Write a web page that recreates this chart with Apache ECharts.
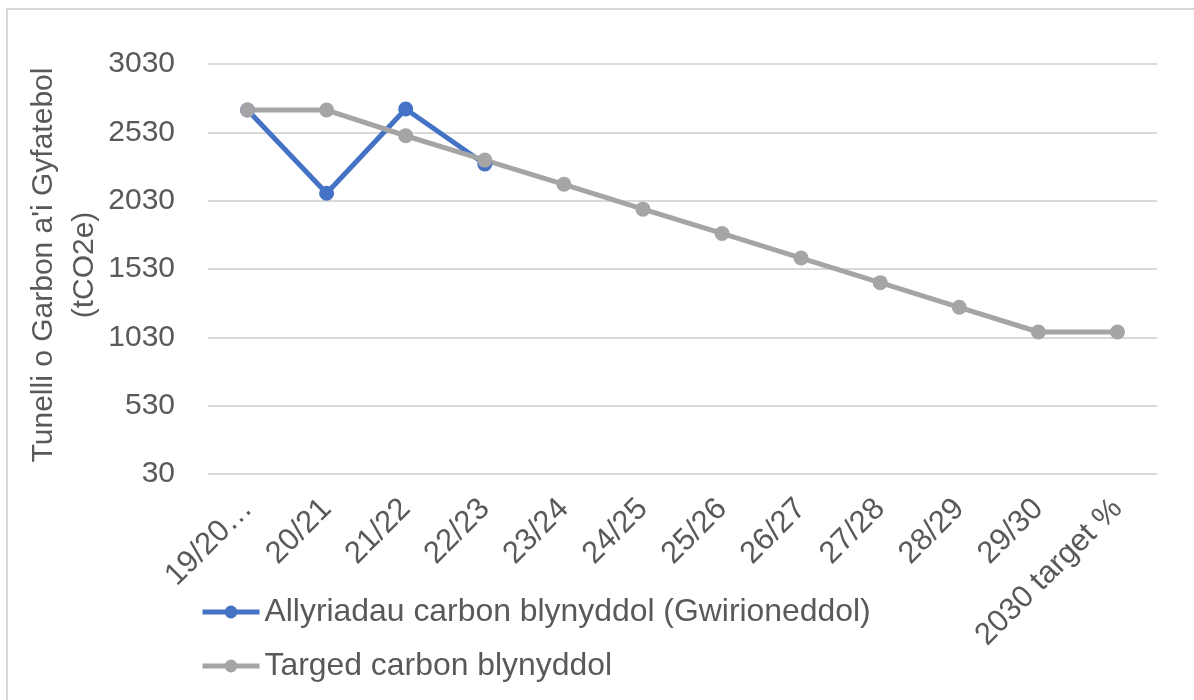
<!DOCTYPE html>
<html style="height: 100%">
<head>
<meta charset="UTF-8">
<title>Allyriadau carbon</title>
<script src="https://cdn.jsdelivr.net/npm/echarts@6/dist/echarts.min.js"></script>
</head>
<body style="height: 100%; margin: 0; background: #fff">
<div id="container" style="width: 1194px; height: 700px"></div>
<script type="text/javascript">
var years = ['19/20…', '20/21', '21/22', '22/23', '23/24', '24/25', '25/26', '26/27', '27/28', '28/29', '29/30', '2030 target %'];
var actual = [2693, 2084, 2701, 2298, null, null, null, null, null, null, null, null];
var target = [2693, 2693, 2505, 2327, 2150, 1968, 1790, 1610, 1430, 1250, 1069, 1069];
var yTicks = [30, 530, 1030, 1530, 2030, 2530, 3030];
var yTitle = "Tunelli o Garbon a'i Gyfatebol\n(tCO2e)";

var textColor = '#595959';
var fontFam = 'Liberation Sans, Arial, sans-serif';

var myChart = echarts.init(document.getElementById('container'));
var option = {
    animation: false,
    textStyle: { fontFamily: fontFam },
    graphic: [{
        type: 'rect',
        shape: { x: 7, y: 9, width: 1250, height: 760 },
        style: { fill: 'none', stroke: '#d9d9d9', lineWidth: 2 }
    }, {
        // y axis title, two lines rotated
        type: 'text',
        x: 64,
        y: 265,
        rotation: Math.PI / 2,
        style: {
            text: yTitle,
            align: 'center',
            verticalAlign: 'middle',
            fontSize: 30,
            lineHeight: 41,
            fontFamily: fontFam,
            fill: textColor
        }
    }],
    legend: {
        orient: 'vertical',
        left: 195,
        top: 591,
        itemWidth: 57,
        itemHeight: 16,
        itemGap: 22,
        textStyle: { color: textColor, fontSize: 31.9, fontFamily: fontFam },
        data: [
            { name: 'Allyriadau carbon blynyddol (Gwirioneddol)', lineStyle: { width: 5 } },
            { name: 'Targed carbon blynyddol', lineStyle: { width: 5 } }
        ]
    },
    grid: { left: 208, right: 37, top: 64, bottom: 226, outerBoundsMode: 'none' },
    xAxis: {
        type: 'category',
        data: years,
        axisLine: { show: false },
        axisTick: { show: false },
        axisLabel: {
            interval: 0,
            rotate: 45,
            margin: 30,
            color: textColor,
            fontSize: 31,
            fontFamily: fontFam
        }
    },
    yAxis: {
        type: 'value',
        min: yTicks[0],
        max: yTicks[yTicks.length - 1],
        interval: 500,
        axisLine: { show: false },
        axisTick: { show: false },
        axisLabel: {
            color: textColor, fontSize: 30, margin: 33, fontFamily: fontFam,
            formatter: function (v) { return String(v); }
        },
        splitLine: { lineStyle: { color: '#d9d9d9', width: 2 } }
    },
    series: [{
        name: 'Allyriadau carbon blynyddol (Gwirioneddol)',
        type: 'line',
        data: actual,
        symbol: 'circle',
        symbolSize: 15,
        color: '#4472C4',
        lineStyle: { width: 5 }
    }, {
        name: 'Targed carbon blynyddol',
        type: 'line',
        data: target,
        symbol: 'circle',
        symbolSize: 15,
        color: '#A5A5A5',
        lineStyle: { width: 5 }
    }]
};
myChart.setOption(option);
</script>
</body>
</html>
